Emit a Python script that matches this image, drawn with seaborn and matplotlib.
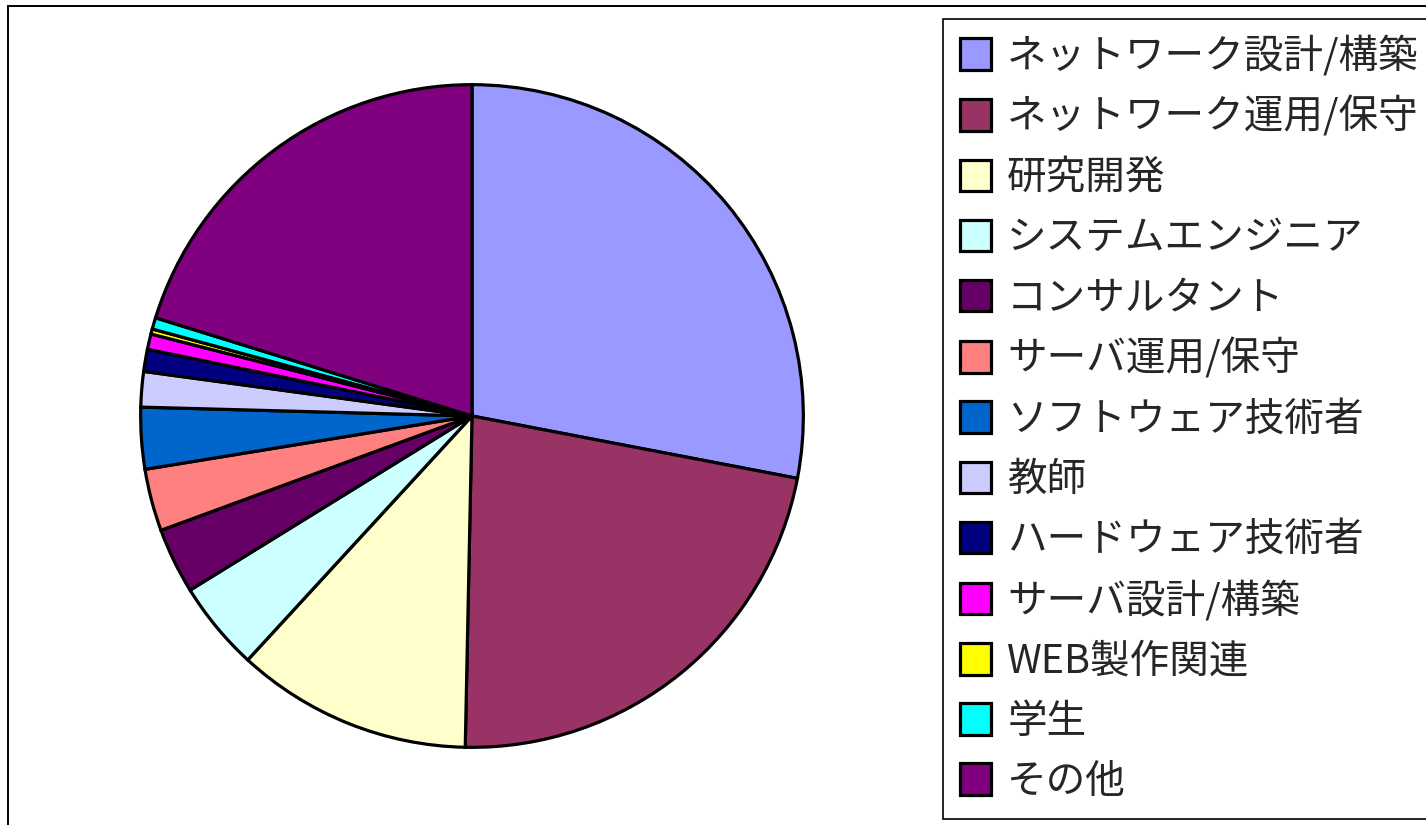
import matplotlib
matplotlib.use("Agg")
import matplotlib.pyplot as plt
from matplotlib.lines import Line2D
import seaborn as sns

# Categories and shares (%), clockwise from 12 o'clock
categories = ["ネットワーク設計/構築", "ネットワーク運用/保守", "研究開発", "システムエンジニア",
              "コンサルタント", "サーバ運用/保守", "ソフトウェア技術者", "教師",
              "ハードウェア技術者", "サーバ設計/構築", "WEB製作関連", "学生", "その他"]
shares = [28.0, 22.3, 11.5, 4.36, 3.2, 3.03, 3.0, 1.72, 1.08, 0.75, 0.25, 0.56, 20.2]
colors = ["#9999FF", "#993366", "#FFFFCC", "#CCFFFF", "#660066", "#FF8080", "#0066CC",
          "#CCCCFF", "#000080", "#FF00FF", "#FFFF00", "#00FFFF", "#800080"]

sns.set_theme(style="white")
plt.rcParams['font.family'] = ['Noto Sans CJK JP', 'DejaVu Sans']

W, H = 1426, 825
fig = plt.figure(figsize=(W / 100, H / 100), dpi=100)

# pie centre (472, 416) px, radius 333 px
cx, cy, r = 472, 416, 333
ax = fig.add_axes([(cx - r) / W, (H - cy - r) / H, 2 * r / W, 2 * r / H])
wedges, _ = ax.pie(shares, colors=sns.color_palette(colors), startangle=90, counterclock=False,
                   radius=1, wedgeprops={"edgecolor": "black", "linewidth": 2.3})
ax.set_xlim(-1.005, 1.005)
ax.set_ylim(-1.005, 1.005)
ax.set_axis_off()

# chart area border (top and left edges visible)
fig.add_artist(Line2D([8 / W, 8 / W], [0, 1 - 6 / H], color="black", lw=1.4, transform=fig.transFigure))
fig.add_artist(Line2D([8 / W, 1], [1 - 6 / H, 1 - 6 / H], color="black", lw=1.4, transform=fig.transFigure))

leg = fig.legend(wedges, categories, loc="upper left", bbox_to_anchor=(943 / W, 1 - 19 / H),
                 borderaxespad=0, fontsize=28.5, frameon=True, fancybox=False,
                 edgecolor="black", borderpad=0.42, labelspacing=0.51,
                 handlelength=0.8, handleheight=0.85, handletextpad=0.4)
leg.get_frame().set_linewidth(1.2)
leg.get_frame().set_alpha(1)

fig.savefig("out.png", dpi=100)
